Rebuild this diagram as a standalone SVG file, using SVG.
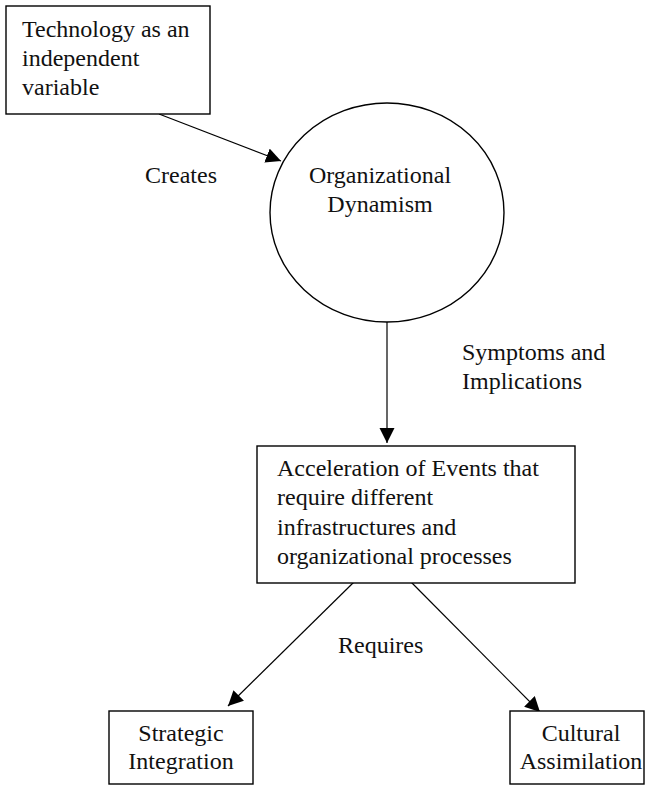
<svg xmlns="http://www.w3.org/2000/svg" width="646" height="786" viewBox="0 0 646 786">
  <style>
    .box { fill: #fff; stroke: #000; stroke-width: 1.4; }
    .lbl { font-family: "Liberation Serif", "Times New Roman", serif; font-size: 24px; fill: #111; }
    .mid { text-anchor: middle; }
    .edge { stroke: #000; stroke-width: 1.2; fill: none; marker-end: url(#arrow); }
  </style>
  <defs>
    <marker id="arrow" markerUnits="userSpaceOnUse" markerWidth="16" markerHeight="16" refX="15" refY="7.5" orient="auto">
      <path d="M0,0 L15,7.5 L0,15 z" fill="#000"/>
    </marker>
  </defs>
  <rect width="646" height="786" fill="#fff"/>

  <g id="connectors">
    <line class="edge" x1="159" y1="114" x2="281" y2="161"/>
    <line class="edge" x1="387" y1="322" x2="387" y2="443"/>
    <line class="edge" x1="354" y1="582" x2="228" y2="706"/>
    <line class="edge" x1="411" y1="582" x2="540" y2="712"/>
    <text class="lbl" x="145" y="183">Creates</text>
    <text class="lbl" x="462" y="360">Symptoms and</text>
    <text class="lbl" x="462" y="389">Implications</text>
    <text class="lbl" x="338" y="653">Requires</text>
  </g>

  <g id="technology">
    <rect class="box" x="6" y="6" width="204" height="108"/>
    <text class="lbl" x="22" y="37">Technology as an</text>
    <text class="lbl" x="22" y="66">independent</text>
    <text class="lbl" x="22" y="95">variable</text>
  </g>

  <g id="dynamism">
    <ellipse class="box" cx="387" cy="212.5" rx="117" ry="109.5"/>
    <text class="lbl mid" x="380" y="183">Organizational</text>
    <text class="lbl mid" x="380" y="212">Dynamism</text>
  </g>

  <g id="acceleration">
    <rect class="box" x="257" y="446" width="318" height="137"/>
    <text class="lbl" x="277" y="476">Acceleration of Events that</text>
    <text class="lbl" x="277" y="505">require different</text>
    <text class="lbl" x="277" y="535">infrastructures and</text>
    <text class="lbl" x="277" y="564">organizational processes</text>
  </g>

  <g id="strategic">
    <rect class="box" x="109" y="711" width="144" height="73"/>
    <text class="lbl mid" x="181" y="741">Strategic</text>
    <text class="lbl mid" x="181" y="769">Integration</text>
  </g>

  <g id="cultural">
    <rect class="box" x="510" y="711" width="134" height="73"/>
    <text class="lbl mid" x="581" y="741">Cultural</text>
    <text class="lbl mid" x="581" y="769">Assimilation</text>
  </g>
</svg>
